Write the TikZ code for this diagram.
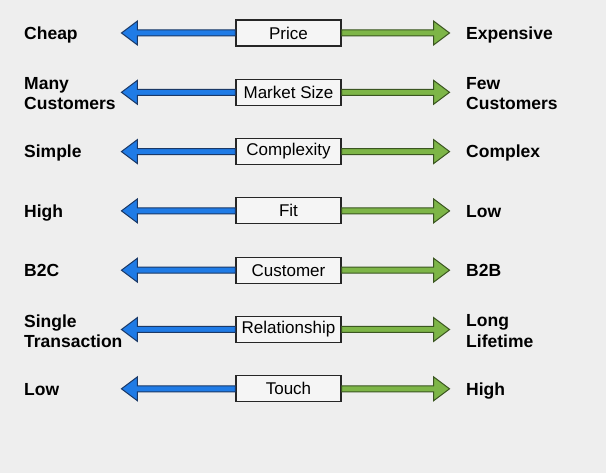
\documentclass[tikz,border=0pt]{standalone}
\usepackage{fontspec}
\setmainfont{Liberation Sans}
\usetikzlibrary{positioning,calc}

\definecolor{bgGray}{HTML}{EEEEEE}
\definecolor{lowBlue}{HTML}{1F7BE6}
\definecolor{lowEdge}{HTML}{1A3866}
\definecolor{highGreen}{HTML}{7DB547}
\definecolor{highEdge}{HTML}{3A5520}

\tikzset{
  arrowshape/.style={to path={let \p1=(\tikztostart), \p2=(\tikztotarget) in
      (\x1,\y1+3pt) -- (\x2+#1,\y1+3pt) -- (\x2+#1,\y1+12pt) -- (\x2,\y1)
      -- (\x2+#1,\y1-12pt) -- (\x2+#1,\y1-3pt) -- (\x1,\y1-3pt) -- cycle}},
  lowarrow/.style={arrowshape=16pt, fill=lowBlue, draw=lowEdge, line width=1pt},
  higharrow/.style={arrowshape=-16pt, fill=highGreen, draw=highEdge, line width=1pt},
  property/.style={draw=black!85, fill=white!96!black, line width=1.1pt,
    minimum width=105pt, minimum height=26pt, inner sep=0pt,
    font=\fontsize{17}{20}\selectfont},
  pole/.style={anchor=west, inner sep=0pt, text height=12.6pt, text depth=0pt,
    font=\bfseries\fontsize{17.5}{20}\selectfont},
  pole2/.style={anchor=west, align=left, inner sep=0pt, yshift=-1.5pt,
    font=\bfseries\fontsize{17.5}{20.5}\selectfont}
}

\begin{document}
\begin{tikzpicture}[x=1pt,y=-1pt]

\fill[bgGray] (0,0) rectangle (606,473);
\useasboundingbox (0,0) rectangle (606,473);

% price
\node[property] (P1) at (288.5,33) {Price};
\node[pole] (L1) at (24,33) {Cheap};
\node[pole] (R1) at (466,33) {Expensive};

% market size
\node[property, below=32.2pt of P1] (P2) {Market Size};
\node[pole2] (L2) at (L1.west |- P2) {Many\\Customers};
\node[pole2] (R2) at (R1.west |- P2) {Few\\Customers};

% complexity
\node[property, below=32.2pt of P2] (P3) {Complexity};
\node[pole] (L3) at (L1.west |- P3) {Simple};
\node[pole] (R3) at (R1.west |- P3) {Complex};

% fit
\node[property, below=32.2pt of P3] (P4) {Fit};
\node[pole] (L4) at (L1.west |- P4) {High};
\node[pole] (R4) at (R1.west |- P4) {Low};

% customer
\node[property, below=32.2pt of P4] (P5) {Customer};
\node[pole] (L5) at (L1.west |- P5) {B2C};
\node[pole] (R5) at (R1.west |- P5) {B2B};

% relationship
\node[property, below=32.2pt of P5] (P6) {Relationship};
\node[pole2] (L6) at (L1.west |- P6) {Single\\Transaction};
\node[pole2] (R6) at (R1.west |- P6) {Long\\Lifetime};

% touch
\node[property, below=32.2pt of P6] (P7) {Touch};
\node[pole] (L7) at (L1.west |- P7) {Low};
\node[pole] (R7) at (R1.west |- P7) {High};

\foreach \i in {1,...,7} {
  \coordinate (TL\i) at ($ (P\i.west) + (-114,0) $);
  \coordinate (TR\i) at ($ (P\i.east) + (108,0) $);
  \draw[lowarrow] (P\i.west) to (TL\i);
  \draw[higharrow] (P\i.east) to (TR\i);
}

\end{tikzpicture}
\end{document}
